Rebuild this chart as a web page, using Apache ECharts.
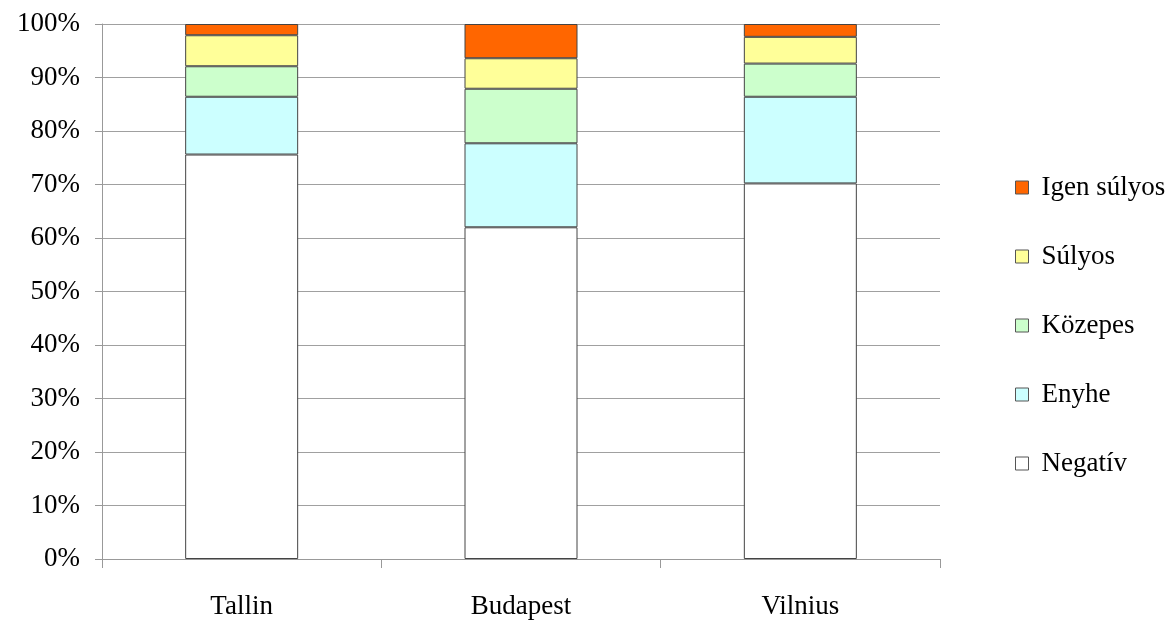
<!DOCTYPE html>
<html>
<head>
<meta charset="utf-8">
<script src="https://cdn.jsdelivr.net/npm/echarts@6/dist/echarts.min.js"></script>
<style>
  html, body { margin: 0; padding: 0; background: #fff; }
  #chart { width: 1175px; height: 623px; }
</style>
</head>
<body>
<div id="chart"></div>
<script>
// Cities on the category axis
const cities = ['Tallin', 'Budapest', 'Vilnius'];

// Share of each severity class per city, in percent
const negativ = [75.6, 62.0, 70.2];
const enyhe = [10.8, 15.7, 16.2];
const kozepes = [5.7, 10.2, 6.2];
const sulyos = [5.8, 5.7, 5.0];
const igenSulyos = [2.1, 6.4, 2.4];

// Severity classes, bottom to top of each stack
const seriesNames = ['Negatív', 'Enyhe', 'Közepes', 'Súlyos', 'Igen súlyos'];
const seriesValues = [negativ, enyhe, kozepes, sulyos, igenSulyos];
const seriesColors = ['#FFFFFF', '#CCFFFF', '#CCFFCC', '#FFFF99', '#FF6600'];

const FONT = '"Liberation Serif", "DejaVu Serif", serif';

const chart = echarts.init(document.getElementById('chart'), null, { renderer: 'canvas' });

chart.setOption({
  animation: false,
  backgroundColor: '#ffffff',
  grid: { left: 102, right: 235, top: 24, bottom: 64 },
  legend: {
    orient: 'vertical',
    left: 1015,
    top: 174,
    padding: 0,
    itemWidth: 13,
    itemHeight: 13,
    itemGap: 42,
    icon: 'rect',
    data: ['Igen súlyos', 'Súlyos', 'Közepes', 'Enyhe', 'Negatív'],
    itemStyle: { borderColor: '#555', borderWidth: 1 },
    textStyle: { fontFamily: FONT, fontSize: 27, color: '#000', lineHeight: 26, height: 26, padding: [0, 0, 0, 8] }
  },
  xAxis: {
    type: 'category',
    data: cities,
    axisLine: { show: true, lineStyle: { color: '#999', width: 1 } },
    axisTick: { show: true, length: 9, alignWithLabel: false, lineStyle: { color: '#999' } },
    axisLabel: { fontFamily: FONT, fontSize: 27, color: '#000', margin: 34 },
    splitLine: { show: false }
  },
  yAxis: {
    type: 'value',
    min: 0,
    max: 100,
    interval: 10,
    axisLine: { show: true, lineStyle: { color: '#999', width: 1 } },
    axisTick: { show: true, length: 7, lineStyle: { color: '#999' } },
    axisLabel: { fontFamily: FONT, fontSize: 27, color: '#000', margin: 22, formatter: '{value}%' },
    splitLine: { show: true, lineStyle: { color: '#a0a0a0', width: 1 } }
  },
  series: seriesNames.map((name, i) => ({
    name: name,
    type: 'bar',
    stack: 'total',
    barWidth: 113,
    data: seriesValues[i],
    itemStyle: { color: seriesColors[i], borderColor: '#444', borderWidth: 1 }
  }))
});
</script>
</body>
</html>
